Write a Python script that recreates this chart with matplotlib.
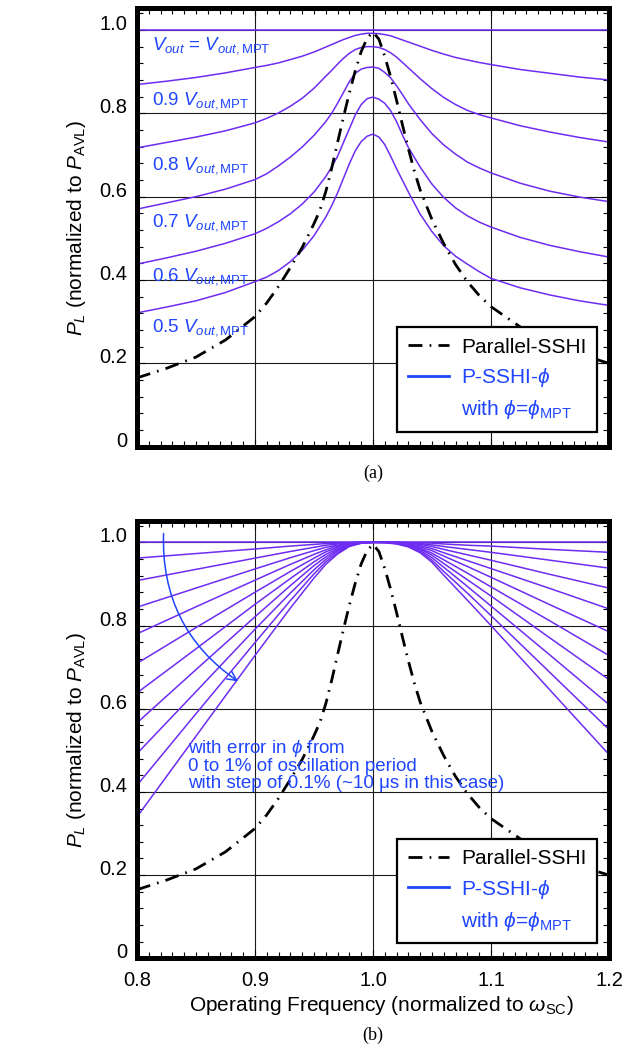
import matplotlib
matplotlib.use("Agg")
import matplotlib.pyplot as plt
from matplotlib.lines import Line2D
from matplotlib.patches import FancyArrowPatch
from matplotlib.ticker import MultipleLocator, FixedLocator, FixedFormatter

plt.rcParams['font.family'] = ['Liberation Sans', 'DejaVu Sans']
plt.rcParams['mathtext.fontset'] = 'custom'
plt.rcParams['mathtext.rm'] = 'Liberation Sans'
plt.rcParams['mathtext.it'] = 'Liberation Sans:italic'
plt.rcParams['mathtext.bf'] = 'Liberation Sans:bold'

# ---------------- data ----------------
# Parallel-SSHI (same in both panels)
sshi_x = [0.80, 0.825, 0.85, 0.875, 0.90, 0.91, 0.92, 0.93, 0.94, 0.95, 0.955, 0.96, 0.965,
          0.97, 0.975, 0.98, 0.985, 0.99, 0.995, 1.00, 1.005, 1.01, 1.015, 1.02, 1.025,
          1.03, 1.035, 1.04, 1.05, 1.06, 1.07, 1.08, 1.09, 1.10, 1.125, 1.15, 1.175, 1.20]
sshi_p = [0.165, 0.188, 0.215, 0.256, 0.312, 0.345, 0.385, 0.430, 0.478, 0.535, 0.567, 0.612, 0.668,
          0.730, 0.791, 0.849, 0.902, 0.948, 0.980, 0.995, 0.978, 0.937, 0.887, 0.831, 0.772,
          0.715, 0.662, 0.616, 0.545, 0.487, 0.437, 0.396, 0.363, 0.336, 0.287, 0.250, 0.222, 0.200]

# Panel (a): P-SSHI-phi at different output voltages
a_x = [0.80, 0.825, 0.85, 0.875, 0.90, 0.91, 0.92, 0.93, 0.94, 0.95, 0.96, 0.965, 0.97,
       0.975, 0.98, 0.985, 0.99, 0.995, 1.00, 1.005, 1.01, 1.015, 1.02, 1.025, 1.03,
       1.04, 1.05, 1.06, 1.07, 1.08, 1.09, 1.10, 1.125, 1.15, 1.175, 1.20]
a_v10 = [1.0] * 36
a_v09 = [0.869, 0.877, 0.886, 0.897, 0.910, 0.915, 0.921, 0.929, 0.937, 0.947, 0.959, 0.965, 0.971,
         0.977, 0.982, 0.987, 0.990, 0.992, 0.992, 0.991, 0.989, 0.986, 0.981, 0.976, 0.971,
         0.961, 0.951, 0.942, 0.934, 0.928, 0.922, 0.917, 0.905, 0.896, 0.887, 0.880]
a_v08 = [0.717, 0.730, 0.743, 0.758, 0.777, 0.788, 0.801, 0.817, 0.836, 0.860, 0.889, 0.903, 0.918,
         0.932, 0.944, 0.953, 0.958, 0.960, 0.960, 0.958, 0.953, 0.945, 0.935, 0.922, 0.909,
         0.883, 0.859, 0.838, 0.821, 0.807, 0.797, 0.789, 0.770, 0.755, 0.742, 0.731]
a_v07 = [0.570, 0.585, 0.600, 0.618, 0.641, 0.655, 0.674, 0.695, 0.719, 0.747, 0.780, 0.800, 0.824,
         0.850, 0.876, 0.896, 0.906, 0.910, 0.911, 0.908, 0.898, 0.885, 0.866, 0.845, 0.823,
         0.785, 0.751, 0.724, 0.702, 0.683, 0.669, 0.657, 0.632, 0.613, 0.599, 0.588]
a_v06 = [0.438, 0.453, 0.469, 0.488, 0.511, 0.524, 0.540, 0.559, 0.582, 0.611, 0.648, 0.671, 0.697,
         0.730, 0.763, 0.796, 0.821, 0.835, 0.839, 0.834, 0.824, 0.806, 0.780, 0.748, 0.718,
         0.671, 0.630, 0.598, 0.573, 0.554, 0.539, 0.527, 0.502, 0.483, 0.468, 0.455]
a_v05 = [0.321, 0.335, 0.350, 0.370, 0.396, 0.407, 0.423, 0.444, 0.471, 0.506, 0.551, 0.578, 0.609,
         0.644, 0.679, 0.710, 0.732, 0.745, 0.750, 0.743, 0.725, 0.697, 0.667, 0.639, 0.611,
         0.558, 0.516, 0.482, 0.457, 0.438, 0.420, 0.404, 0.381, 0.364, 0.350, 0.339]
a_labels = ["$V_{out}$ = $V_{out,\\mathrm{MPT}}$", "0.9 $V_{out,\\mathrm{MPT}}$",
            "0.8 $V_{out,\\mathrm{MPT}}$", "0.7 $V_{out,\\mathrm{MPT}}$",
            "0.6 $V_{out,\\mathrm{MPT}}$", "0.5 $V_{out,\\mathrm{MPT}}$"]
a_label_y = [0.952, 0.820, 0.664, 0.528, 0.398, 0.276]

# Panel (b): P-SSHI-phi with phase error 0 .. 1 % (step 0.1 %)
b_x = [0.80, 0.85, 0.90, 0.93, 0.95, 0.96, 0.97, 0.98, 0.99, 1.00,
       1.01, 1.02, 1.03, 1.04, 1.05, 1.06, 1.08, 1.10, 1.15, 1.20]
b_e00 = [1.0] * 20
b_e01 = [0.962, 0.973, 0.984, 0.991, 0.995, 0.997, 0.998, 0.999, 1.0, 1.0,
         1.0, 1.0, 0.999, 0.999, 0.998, 0.996, 0.993, 0.991, 0.983, 0.976]
b_e02 = [0.908, 0.935, 0.962, 0.978, 0.988, 0.993, 0.996, 0.999, 1.0, 1.0,
         1.0, 1.0, 0.999, 0.997, 0.994, 0.990, 0.983, 0.976, 0.957, 0.938]
b_e03 = [0.844, 0.890, 0.936, 0.963, 0.980, 0.988, 0.993, 0.998, 1.0, 1.0,
         1.0, 0.999, 0.998, 0.995, 0.990, 0.983, 0.970, 0.957, 0.923, 0.890]
b_e04 = [0.780, 0.845, 0.909, 0.947, 0.971, 0.982, 0.991, 0.997, 0.999, 1.0,
         1.0, 0.999, 0.996, 0.992, 0.985, 0.975, 0.956, 0.937, 0.889, 0.840]
b_e05 = [0.709, 0.795, 0.880, 0.930, 0.962, 0.977, 0.988, 0.996, 0.999, 1.0,
         1.0, 0.998, 0.995, 0.989, 0.980, 0.967, 0.942, 0.916, 0.850, 0.785]
b_e06 = [0.638, 0.744, 0.851, 0.913, 0.953, 0.971, 0.985, 0.995, 0.999, 1.0,
         1.0, 0.998, 0.994, 0.986, 0.974, 0.958, 0.926, 0.893, 0.811, 0.728]
b_e07 = [0.566, 0.694, 0.821, 0.896, 0.944, 0.965, 0.982, 0.993, 0.999, 1.0,
         1.0, 0.998, 0.993, 0.984, 0.969, 0.949, 0.910, 0.871, 0.770, 0.670]
b_e08 = [0.492, 0.641, 0.791, 0.878, 0.934, 0.959, 0.979, 0.992, 0.998, 1.0,
         1.0, 0.997, 0.991, 0.981, 0.963, 0.940, 0.894, 0.847, 0.729, 0.610]
b_e09 = [0.416, 0.588, 0.759, 0.860, 0.924, 0.953, 0.975, 0.991, 0.998, 1.0,
         1.0, 0.997, 0.990, 0.978, 0.957, 0.930, 0.878, 0.824, 0.687, 0.550]
b_e10 = [0.340, 0.534, 0.728, 0.842, 0.914, 0.947, 0.972, 0.990, 0.998, 1.0,
         0.999, 0.996, 0.989, 0.975, 0.952, 0.921, 0.861, 0.800, 0.645, 0.490]

x_ticks = [0.8, 0.9, 1.0, 1.1, 1.2]
x_ticklabels = ["0.8", "0.9", "1.0", "1.1", "1.2"]
y_ticks = [0.0, 0.2, 0.4, 0.6, 0.8, 1.0]
y_ticklabels = ["0", "0.2", "0.4", "0.6", "0.8", "1.0"]

# ---------------- style ----------------
PURPLE = '#6e2cf2'
BLUE = '#1f45ff'
DASHES = (5, 2.6, 0.6, 2.6)

fig = plt.figure(figsize=(6.35, 10.5), dpi=100)
ax_a = fig.add_axes([0.2157, 0.5746, 0.7433, 0.4175])
ax_b = fig.add_axes([0.2157, 0.0873, 0.7433, 0.4168])


def style_axes(ax, show_xlabels):
    ax.set_xlim(0.8, 1.2)
    ax.set_ylim(0.0, 1.052)
    ax.xaxis.set_major_locator(FixedLocator(x_ticks))
    ax.yaxis.set_major_locator(FixedLocator(y_ticks))
    ax.xaxis.set_major_formatter(FixedFormatter(x_ticklabels))
    ax.yaxis.set_major_formatter(FixedFormatter(y_ticklabels))
    ax.xaxis.set_minor_locator(MultipleLocator(0.01))
    ax.yaxis.set_minor_locator(MultipleLocator(0.04))
    ax.tick_params(which='both', direction='in', top=True, right=True)
    ax.tick_params(which='major', length=6, width=0.8, labelsize=14.5, pad=7)
    ax.tick_params(which='minor', length=4.5, width=0.8)
    ax.tick_params(axis='x', labelbottom=show_xlabels, pad=9)
    for lab in ax.get_yticklabels():
        lab.set_verticalalignment('baseline')
    ax.grid(True, which='major', color='#1a1a1a', linewidth=0.8, zorder=0)
    ax.set_axisbelow(True)
    for s in ax.spines.values():
        s.set_linewidth(3.6)
        s.set_zorder(10)
    ax.set_ylabel("$P_L$ (normalized to $P_{\\mathrm{AVL}}$)", fontsize=15)
    ax.yaxis.set_label_coords(-0.103, 0.5)


def add_legend(ax):
    handles = [Line2D([], [], color='black', lw=2, dashes=DASHES),
               Line2D([], [], color=BLUE, lw=2),
               Line2D([], [], color='none', lw=0)]
    labels = ["Parallel-SSHI", "P-SSHI-$\\phi$", "with $\\phi$=$\\phi_{\\mathrm{MPT}}$"]
    leg = ax.legend(handles, labels, loc='lower right', bbox_to_anchor=(0.974, 0.034),
                    borderaxespad=0, fontsize=15, frameon=True, fancybox=False,
                    edgecolor='black', framealpha=1, handlelength=2.0,
                    handletextpad=0.55, labelspacing=0.45, borderpad=0.5)
    leg.get_frame().set_linewidth(1.6)
    leg.set_zorder(20)
    txts = leg.get_texts()
    txts[1].set_color(BLUE)
    txts[2].set_color(BLUE)


# ---------------- panel (a) ----------------
style_axes(ax_a, False)
for vals in [a_v10, a_v09, a_v08, a_v07, a_v06, a_v05]:
    ax_a.plot(a_x, vals, color=PURPLE, lw=1.1, zorder=2)
ax_a.plot(sshi_x, sshi_p, color='black', lw=2, dashes=DASHES, zorder=3)
for lab, yy in zip(a_labels, a_label_y):
    ax_a.text(0.8128, yy, lab, color=BLUE, fontsize=13.5, va='baseline', ha='left', zorder=4)
add_legend(ax_a)

# ---------------- panel (b) ----------------
style_axes(ax_b, True)
for vals in [b_e00, b_e01, b_e02, b_e03, b_e04, b_e05, b_e06, b_e07, b_e08, b_e09, b_e10]:
    ax_b.plot(b_x, vals, color=PURPLE, lw=1.1, zorder=2)
ax_b.plot(sshi_x, sshi_p, color='black', lw=2, dashes=DASHES, zorder=3)
ax_b.set_xlabel("Operating Frequency (normalized to $\\omega_{\\mathrm{SC}}$)", fontsize=15)
ax_b.xaxis.set_label_coords(0.518, -0.082)
arrow = FancyArrowPatch((0.8226, 1.028), (0.8876, 0.662), arrowstyle='->',
                        connectionstyle='arc3,rad=0.28', color=BLUE, lw=1.1,
                        mutation_scale=16, zorder=4)
ax_b.add_patch(arrow)
ax_b.text(0.843, 0.530,
          "with error in $\\phi$ from\n0 to 1% of oscillation period\nwith step of 0.1% (~10 \u03bcs in this case)",
          color=BLUE, fontsize=13.5, va='top', ha='left', linespacing=0.95, zorder=4)
add_legend(ax_b)

fig.text(373 / 635, 1 - 473 / 1050, "(a)", family='Liberation Serif', fontsize=13,
         ha='center', va='center')
fig.text(373 / 635, 1 - 1035 / 1050, "(b)", family='Liberation Serif', fontsize=13,
         ha='center', va='center')

fig.savefig("out.png", dpi=100)
